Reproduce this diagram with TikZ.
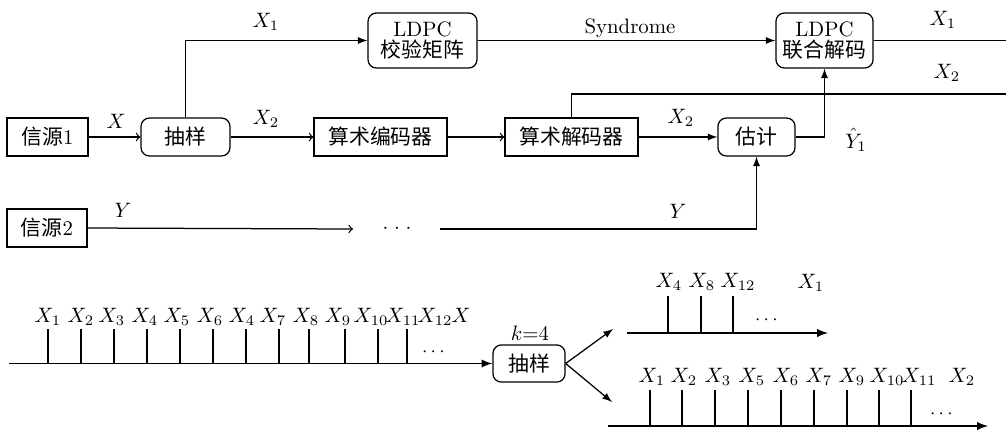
\documentclass[tikz,border=0pt]{standalone}
\usepackage{amsmath, amssymb}
\usepackage{fontspec}
\newfontfamily\zhfont{Noto Sans CJK SC}
\usetikzlibrary{calc,arrows.meta}

\begin{document}
\begin{tikzpicture}[x=0.48pt, y=-0.48pt, line width=0.6pt,
  blk/.style={draw, inner sep=0pt, minimum height=18.2pt, align=center},
  rblk/.style={blk, rounded corners=4pt},
  lbl/.style={anchor=base, inner sep=0pt},
  tl/.style={line width=0.8pt, -latex}]
\useasboundingbox (0,0) rectangle (1006,430);
% upper chain
\node[blk, minimum width=38.9pt] (src1) at (47.5,137) {{\zhfont 信源}1};
\node[rblk, minimum width=42.7pt] (samp) at (185.5,137) {\zhfont 抽样};
\node[blk, minimum width=63.8pt] (enc) at (380.5,137) {\zhfont 算术编码器};
\node[blk, minimum width=63.8pt] (dec) at (571.5,137) {\zhfont 算术解码器};
\node[rblk, minimum width=37pt] (est) at (756.5,137) {\zhfont 估计};
\node[rblk, minimum width=52.3pt, minimum height=26.4pt] (ldpcA) at (422.5,40.5) {LDPC\\[-2pt]{\zhfont 校验矩阵}};
\node[rblk, minimum width=46.6pt, minimum height=26.4pt] (ldpcB) at (824.5,40.5) {LDPC\\[-2pt]{\zhfont 联合解码}};
\node[blk, minimum width=38.4pt] (src2) at (47,228) {{\zhfont 信源}2};
\node (dotsY) at (397,229) {${\cdot}\;{\cdot}\;{\cdot}$};
\coordinate (outX1) at (1006,40.5);
\coordinate (outX2) at (1006,94);
\coordinate (yend) at (353,229);
\coordinate (ystart) at (440,229);

\draw[-to] (src1) -- (samp);
\draw[-latex] (samp.north) |- (ldpcA.west);
\draw[-to] (samp) -- (enc);
\draw[-to] (enc) -- (dec);
\draw (dec.north) |- (outX2);
\draw[-latex] (dec) -- (est);
\draw[-latex] (est.east) -| (ldpcB.south);
\draw[-latex] (ldpcA) -- (ldpcB);
\draw (ldpcB.east) -- (outX1);
\draw[-to] (src2.east) -- (yend);
\draw[-latex] (ystart) -| (est.south);

\node[lbl] (lX) at (116,128) {$X$};
\node[lbl] (lX1a) at (266,27) {$X_1$};
\node[lbl] (lX2a) at (266,124) {$X_2$};
\node[lbl] (lsyn) at (630,33) {Syndrome};
\node[lbl] (lX2b) at (681,123) {$X_2$};
\node[lbl] (lX1b) at (943,25) {$X_1$};
\node[lbl] (lX2c) at (947,78) {$X_2$};
\node[lbl] (lY1) at (856,148) {$\hat{Y}_1$};
\node[lbl] (lYa) at (123,217) {$Y$};
\node[lbl] (lYb) at (678,218) {$Y$};

% sampling illustration
\node[rblk, minimum width=34.6pt, minimum height=17.8pt] (samp2) at (529,363.5) {\zhfont 抽样};
\node[lbl] (lk) at (530,340) {$k{=}4$};
\coordinate (t0) at (9,363.5);
\coordinate (up) at (613,329);
\coordinate (dn) at (612,402);
\draw[tl] (t0) -- (samp2.west);
\draw[-latex] (samp2.east) -- (up);
\draw[-latex] (samp2.east) -- (dn);
\foreach \x in {48,81,114,147,180,213,246,279,309,345,378,407}
  \draw (\x,363.5) -- (\x,329);
\foreach \x/\t [count=\i] in {48/1,81/2,112/3,145/4,177/5,210/6,242/4,273/7,306/8,338/9,371/10,403/11,435/12}
  \node[lbl] (sa\i) at (\x,322) {$X_{\t}$};
\node[lbl] (saX) at (461,322) {$X$};
\node (sadots) at (435,352) {\small$\cdots$};

\draw[tl] (627,333) -- (828,333);
\foreach \x in {668,701,733}
  \draw (\x,333) -- (\x,296);
\foreach \x/\t [count=\i] in {669/4,702/8,738/12}
  \node[lbl] (sb\i) at (\x,287) {$X_{\t}$};
\node[lbl] (sbX) at (811,288) {$X_1$};
\node (sbdots) at (768,320) {\small$\cdots$};

\draw[tl] (608,426) -- (988,426);
\foreach \x in {650,682,715,748,781,814,847,879,911}
  \draw (\x,426) -- (\x,390);
\foreach \x/\t [count=\i] in {652/1,684/2,718/3,752/5,786/6,819/7,852/9,887/10,919/11}
  \node[lbl] (sc\i) at (\x,382) {$X_{\t}$};
\node[lbl] (scX) at (962,382) {$X_2$};
\node (scdots) at (943,414) {\small$\cdots$};
\end{tikzpicture}
\end{document}
